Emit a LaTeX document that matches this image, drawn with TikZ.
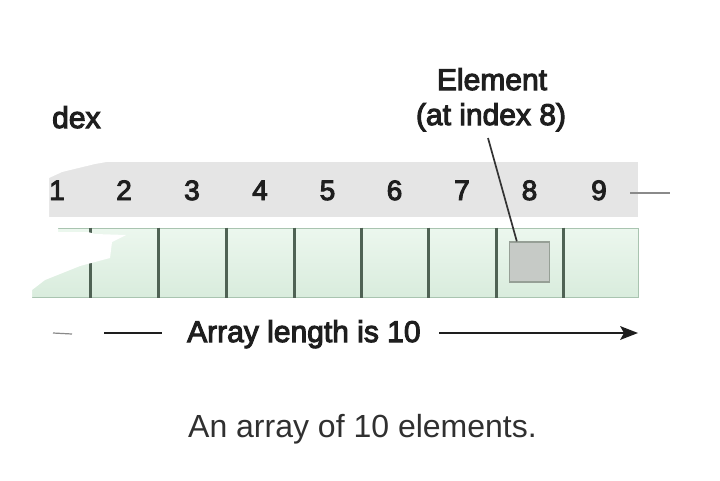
\documentclass[tikz,border=0pt]{standalone}
\usepackage{fontspec}
\setmainfont{Liberation Sans}
\newfontfamily\lblfont[FakeBold=3.5]{Liberation Sans}
\usetikzlibrary{arrows.meta}
\definecolor{bandgray}{HTML}{E5E5E5}
\definecolor{celltop}{HTML}{ECF7EE}
\definecolor{cellbot}{HTML}{D9ECDD}
\definecolor{celledge}{HTML}{A9C4B0}
\definecolor{divcol}{HTML}{4F6254}
\definecolor{txt}{HTML}{1E1E1E}
\definecolor{captxt}{HTML}{303030}
\definecolor{sqfill}{HTML}{C6CAC6}
\definecolor{sqedge}{HTML}{969F96}
\definecolor{ptr}{HTML}{333333}
\definecolor{dashcol}{HTML}{8A8A8A}
\begin{document}
\begin{tikzpicture}[x=1pt,y=-1pt,
  lbl/.style={font=\lblfont\fontsize{30}{36}\selectfont, text=txt, inner sep=0pt, anchor=base},
  idx/.style={font=\lblfont\fontsize{28}{34}\selectfont, text=txt, inner sep=0pt, anchor=base},
  captext/.style={font=\fontsize{32}{38}\selectfont, text=captxt, inner sep=0pt, anchor=base west},
  cell/.style={rectangle, draw=celledge, line width=1pt, top color=celltop, bottom color=cellbot, inner sep=0pt, minimum height=69pt},
  divider/.style={draw=divcol, line width=2.4pt},
  sqbox/.style={rectangle, fill=sqfill, draw=sqedge, line width=1.4pt, minimum size=40pt, inner sep=0pt},
  pointer/.style={draw=ptr, line width=1.7pt},
  lenline/.style={draw=txt, line width=2.2pt},
  tiphead/.style={fill=txt},
  stubline/.style={draw=dashcol, line width=1.2pt},
  dashline/.style={draw=dashcol, line width=1.6pt},
]
\path[use as bounding box, fill=white] (0,0) rectangle (720,480);
% index band
\fill[bandgray] (40,162) rectangle (638,217);
% cells
\foreach \i/\cx/\w in {1/56/68, 2/124/68, 3/192/68, 4/260/68, 5/327.5/67, 6/394.5/67, 7/462/68, 8/529.5/67, 9/600.5/75}
  \node[cell, minimum width=\w pt] (c\i) at (\cx,262.5) {};
\foreach \i in {1,...,8}
  \draw[divider] (c\i.north east) -- (c\i.south east);
% erased region
\fill[white] (0,140) -- (112,140) -- (112,161) -- (95,164) -- (62,172) -- (49,178) -- (49,220)
  -- (58,224) -- (58,232) -- (88,232) -- (95,234) -- (126,235) -- (112,242) -- (110,258)
  -- (80,266) -- (45,280) -- (32,290) -- (32,300) -- (0,300) -- cycle;
% element square
\node[sqbox] (sq) at (529.5,262) {};
% index numbers
\foreach \i/\cx in {1/57, 2/124, 3/192, 4/260, 5/327.5, 6/394.5, 7/462, 8/529.5, 9/599}
  \node[idx] (n\i) at (\cx,200) {\i};
\coordinate (d1) at (630,193);
\coordinate (d2) at (670,193);
\draw[dashline] (d1) -- (d2);
% labels
\node[lbl, anchor=base west] (dex) at (52,128) {dex};
\node[lbl] (elem1) at (492,90) {Element};
\node[lbl] (elem2) at (491,125) {(at index 8)};
\coordinate (ptop) at (488,138);
\draw[pointer] (ptop) -- ([xshift=8pt]sq.north west);
% length arrow
\node[lbl, anchor=base west] (len) at (187,342) {Array length is 10};
\coordinate (s1) at (53,333);
\coordinate (s2) at (72,334);
\draw[stubline] (s1) -- (s2);
\coordinate (l1) at (104,333);
\coordinate (l2) at (162,333);
\draw[lenline] (l1) -- (l2);
\coordinate (a1) at (439,333);
\coordinate (a2) at (625,333);
\coordinate (atip) at (638,333);
\draw[lenline] (a1) -- (a2);
\fill[tiphead] (atip) -- ++(-18,-7) -- ++(4,7) -- ++(-4,7) -- cycle;
% caption
\node[captext] (cap) at (188,437) {An array of 10 elements.};
\end{tikzpicture}
\end{document}
